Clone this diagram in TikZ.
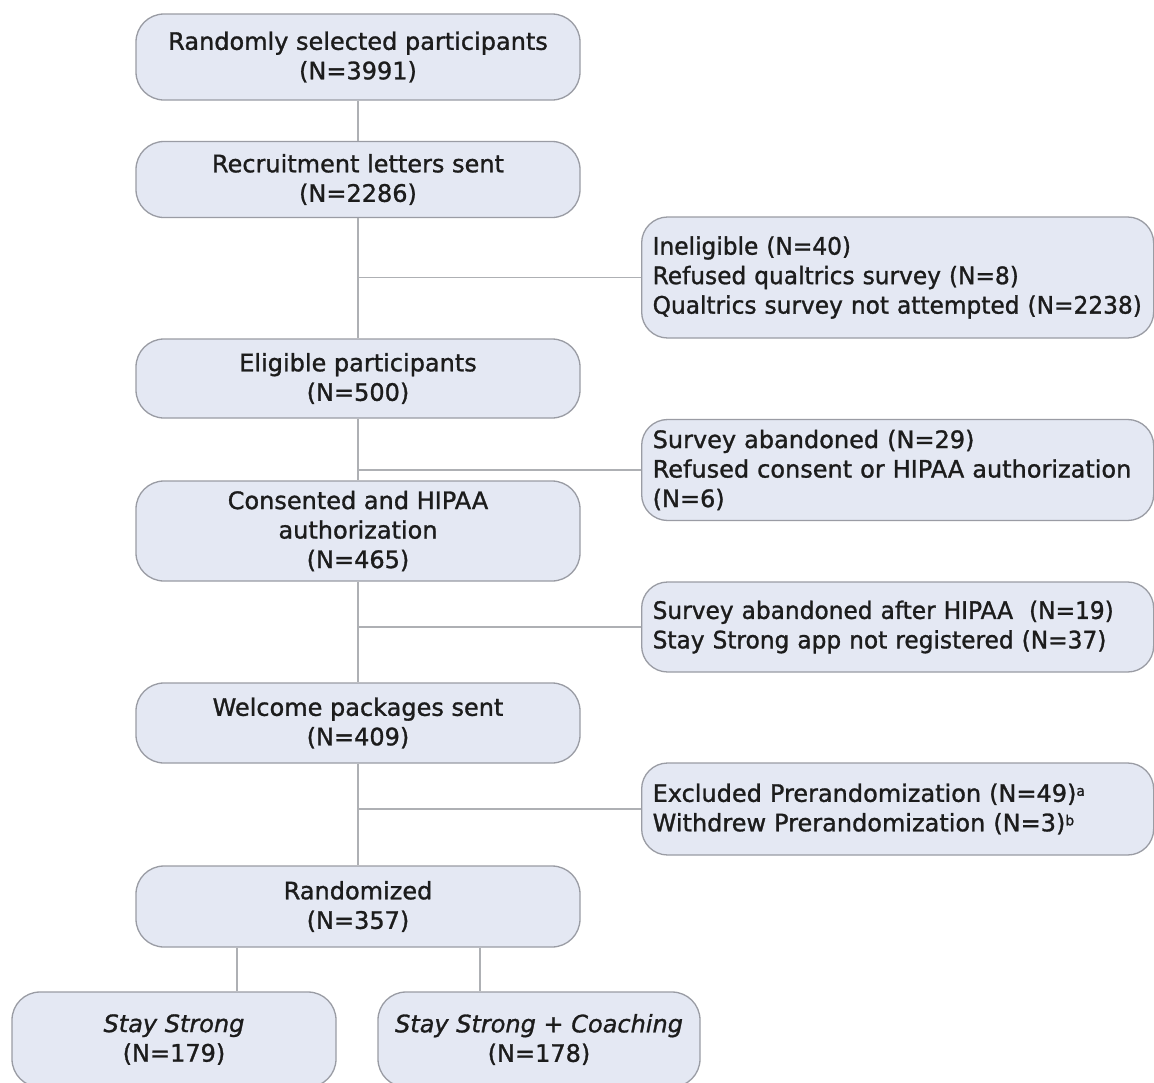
\documentclass[tikz,border=0pt]{standalone}
\usepackage{fontspec}
\setmainfont[FakeBold=1.2,ItalicFont={DejaVu Sans Oblique},ItalicFeatures={FakeBold=1.2}]{DejaVu Sans}
\newfontfamily\tightfont[FakeBold=1.2,FakeStretch=0.97]{DejaVu Sans}
\definecolor{boxfill}{HTML}{E4E8F3}
\definecolor{boxline}{HTML}{9A9CA4}
\definecolor{conn}{HTML}{AEB0B4}
\definecolor{txt}{HTML}{1C1C1C}
\newcommand{\supmark}[1]{\raisebox{6pt}{\fontsize{14}{14}\selectfont #1}}
\begin{document}
\begin{tikzpicture}[x=1pt,y=-1pt,
  flowbox/.style={draw=boxline, fill=boxfill, line width=1.3pt, rounded corners=28pt,
    minimum width=444pt, inner sep=0pt, align=center, text=txt,
    font=\fontsize{24}{29.5}\selectfont},
  sidebox/.style={draw=boxline, fill=boxfill, line width=1.3pt, rounded corners=26pt,
    minimum width=512pt, text width=490pt, inner xsep=11pt, inner ysep=0pt, align=left,
    anchor=west, text=txt, font=\fontsize{24}{29.5}\selectfont},
  tightbox/.style={sidebox, font=\tightfont\fontsize{24}{29.5}\selectfont},
  armbox/.style={flowbox, minimum height=95pt},
  link/.style={draw=conn, line width=1.5pt}]
\useasboundingbox (0,0) rectangle (1154,1082);
\clip (0,0) rectangle (1154,1082);
\fill[white] (0,0) rectangle (1154,1082);

\node[flowbox, minimum height=86pt] (b1) at (358,57) {Randomly selected participants\\(N=3991)};
\node[flowbox, minimum height=76pt] (b2) at (358,179.5) {Recruitment letters sent\\(N=2286)};
\node[flowbox, minimum height=79pt] (b3) at (358,378.5) {Eligible participants\\(N=500)};
\node[flowbox, minimum height=100pt] (b4) at (358,531) {Consented and HIPAA\\authorization\\(N=465)};
\node[flowbox, minimum height=80pt] (b5) at (358,723) {Welcome packages sent\\(N=409)};
\node[flowbox, minimum height=81pt] (b6) at (358,906.5) {Randomized\\(N=357)};

\node[armbox, minimum width=324pt] (c1) at (174,1039.5) {\textit{Stay Strong}\\(N=179)};
\node[armbox, minimum width=322pt] (c2) at (539,1039.5) {\textit{Stay Strong + Coaching}\\(N=178)};

\node[tightbox, minimum height=121pt] (s1) at (641,277.5) {\mbox{Ineligible (N=40)}\\\mbox{Refused qualtrics survey (N=8)}\\\mbox{Qualtrics survey not attempted (N=2238)}};
\node[sidebox, minimum height=101pt] (s2) at (641,470) {\mbox{Survey abandoned (N=29)}\\\mbox{Refused consent or HIPAA authorization}\\\mbox{(N=6)}};
\node[tightbox, minimum height=90pt] (s3) at (641,627) {\mbox{Survey abandoned after HIPAA\ \ (N=19)}\\\mbox{Stay Strong app not registered (N=37)}};
\node[sidebox, minimum height=92pt] (s4) at (641,809) {\mbox{Excluded Prerandomization (N=49)\supmark{a}}\\\mbox{Withdrew Prerandomization (N=3)\supmark{b}}};

\draw[link] (b1.south) -- (b2.north);
\draw[link] (b2.south) -- (b3.north);
\draw[link] (b3.south) -- (b4.north);
\draw[link] (b4.south) -- (b5.north);
\draw[link] (b5.south) -- (b6.north);
\draw[link] (s1.west) -- (s1.west -| b2.south);
\draw[link] (s2.west) -- (s2.west -| b3.south);
\draw[link] (s3.west) -- (s3.west -| b4.south);
\draw[link] (s4.west) -- (s4.west -| b5.south);
\coordinate (j1) at (237,0);
\coordinate (j2) at (480,0);
\draw[link] (b6.south -| j1) -- (c1.north -| j1);
\draw[link] (b6.south -| j2) -- (c2.north -| j2);
\end{tikzpicture}
\end{document}
